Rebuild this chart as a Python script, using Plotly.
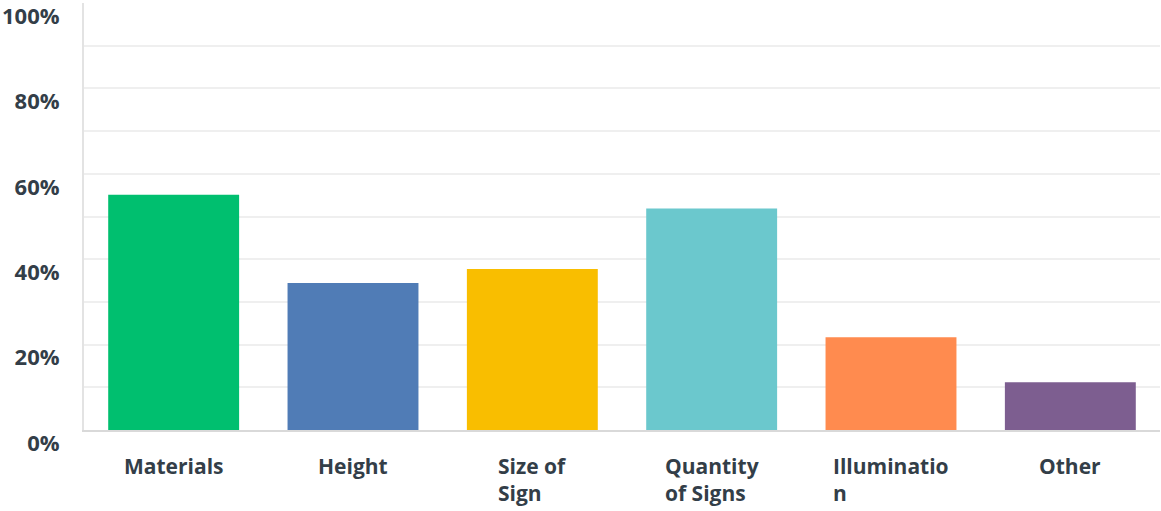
import plotly.graph_objects as go

# Survey responses: share of respondents choosing each sign attribute
categories = ["Materials", "Height", "Size of Sign", "Quantity of Signs", "Illumination", "Other"]
label_lines = ["Materials", "Height", "Size of<br>Sign", "Quantity<br>of Signs", "Illuminatio<br>n", "Other"]
percent = [55.1, 34.4, 37.7, 51.9, 21.7, 11.2]
bar_colors = ["#00BF6F", "#507CB6", "#F9BE00", "#6BC8CD", "#FF8B4F", "#7D5E90"]

y_tick_vals = [0, 20, 40, 60, 80, 100]
y_tick_text = ["0%", "20%", "40%", "60%", "80%", "100%"]

text_color = "#333E48"

fig = go.Figure(
    go.Bar(
        x=categories,
        y=percent,
        marker=dict(color=bar_colors, line=dict(width=0)),
        hovertemplate="%{x}: %{y:.1f}%<extra></extra>",
    )
)

# Category labels, wrapped and left-aligned beneath each bar
for cat, text in zip(categories, label_lines):
    fig.add_annotation(
        x=cat, xref="x", y=0, yref="paper",
        xanchor="center", yanchor="top", yshift=-20,
        text=text, showarrow=False, align="left",
        font=dict(family="Open Sans", size=21, color=text_color, weight="bold"),
    )

fig.update_layout(
    width=1161, height=511,
    margin=dict(l=84, r=1, t=3, b=81, autoexpand=False),
    paper_bgcolor="white", plot_bgcolor="white",
    bargap=0.27,
    showlegend=False,
    xaxis=dict(
        showticklabels=False, showgrid=False, zeroline=False, automargin=False,
        showline=True, linecolor="#D9D9D9", linewidth=2,
    ),
    yaxis=dict(
        range=[0, 100], automargin=False,
        tickvals=y_tick_vals, ticktext=y_tick_text,
        showgrid=True, gridcolor="#EFEFEF", gridwidth=2,
        minor=dict(dtick=10, showgrid=True, gridcolor="#EFEFEF", gridwidth=2),
        zeroline=False,
        showline=True, linecolor="#E3E3E3", linewidth=2,
        ticks="", ticklabelstandoff=18, ticklabelshift=13,
        ticklabeloverflow="allow",
        tickfont=dict(family="Open Sans", size=22, color=text_color, weight="bold"),
    ),
)

fig.write_html("out.html")
